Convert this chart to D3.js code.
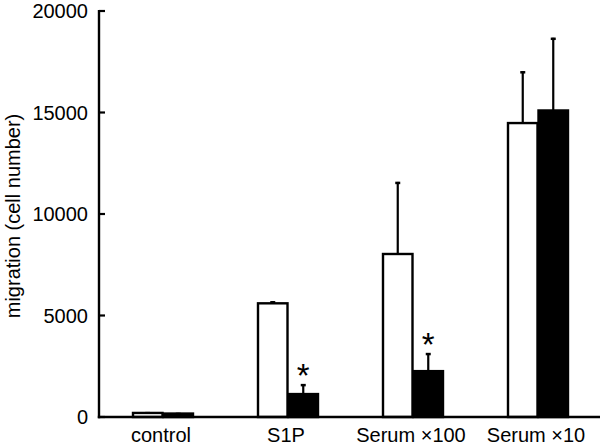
<!DOCTYPE html>
<html><head><meta charset="utf-8">
<script src="https://cdn.jsdelivr.net/npm/d3@7"></script>
<style>body{margin:0;background:#fff}svg{display:block}text{font-family:"Liberation Sans",Arial,sans-serif}</style>
</head><body>
<svg id="c" width="600" height="445"></svg>
<script>
const categories = ["control", "S1P", "Serum \u00d7100", "Serum \u00d710"];
const whiteValues = [200, 5600, 8030, 14480];
const whiteErrors = [40, 100, 3550, 2550];
const blackValues = [170, 1130, 2260, 15100];
const blackErrors = [30, 490, 890, 3580];
const significant = [false, true, true, false];
const yTicks = [0, 5000, 10000, 15000, 20000];

const svg = d3.select("#c");
const x0 = 99, x1 = 600, yb = 417, yt = 11;
const x = d3.scaleBand().domain(categories).range([100, 600]).paddingInner(0).paddingOuter(0);
const y = d3.scaleLinear().domain([0, 20000]).range([yb, yt]);
const bw = 30.5;

// bars
const g = svg.append("g");
categories.forEach((c, i) => {
  const cx = x(c) + x.bandwidth() / 2;
  const series = [
    {v: whiteValues[i], e: whiteErrors[i], x: cx - bw, fill: "#fff"},
    {v: blackValues[i], e: blackErrors[i], x: cx, fill: "#000"}
  ];
  series.forEach(s => {
    const bx = s.x + 1;
    const ex = bx + (bw - 1) / 2;
    g.append("line").attr("x1", ex).attr("x2", ex).attr("y1", y(s.v)).attr("y2", y(s.v + s.e))
      .attr("stroke", "#000").attr("stroke-width", 2.2);
    g.append("line").attr("x1", ex - 2.5).attr("x2", ex + 2.5).attr("y1", y(s.v + s.e) + 1).attr("y2", y(s.v + s.e) + 1)
      .attr("stroke", "#000").attr("stroke-width", 2.5);
    g.append("rect").attr("x", bx).attr("y", y(s.v)).attr("width", bw - 1)
      .attr("height", Math.max(0, y(0) - y(s.v)))
      .attr("fill", s.fill).attr("stroke", "#000").attr("stroke-width", 2.4);
  });
  if (significant[i]) {
    g.append("text").attr("x", cx + bw / 2 + 0.5).attr("y", y(blackValues[i] + blackErrors[i]) + 3)
      .attr("text-anchor", "middle").attr("font-size", 33).attr("fill", "#000").text("*");
  }
});

// axes
svg.append("line").attr("x1", x0).attr("x2", x0).attr("y1", yt - 1).attr("y2", yb + 1.2)
  .attr("stroke", "#000").attr("stroke-width", 2.4);
svg.append("line").attr("x1", x0 - 1.2).attr("x2", x1).attr("y1", yb).attr("y2", yb)
  .attr("stroke", "#000").attr("stroke-width", 2.4);
yTicks.forEach(t => {
  svg.append("line").attr("x1", x0).attr("x2", x0 + 6).attr("y1", y(t)).attr("y2", y(t))
    .attr("stroke", "#000").attr("stroke-width", 2.2);
  svg.append("text").attr("x", 88).attr("y", y(t)).attr("dy", "0.36em").attr("text-anchor", "end")
    .attr("font-size", 20).attr("fill", "#000").text(t);
});
categories.forEach(c => {
  svg.append("text").attr("x", x(c) + x.bandwidth() / 2 - 1.5).attr("y", 442).attr("text-anchor", "middle")
    .attr("font-size", 20).attr("fill", "#000").text(c);
});
svg.append("text").attr("transform", "translate(20,216) rotate(-90)").attr("text-anchor", "middle")
  .attr("font-size", 20).attr("fill", "#000").text("migration (cell number)");
</script>
</body></html>
